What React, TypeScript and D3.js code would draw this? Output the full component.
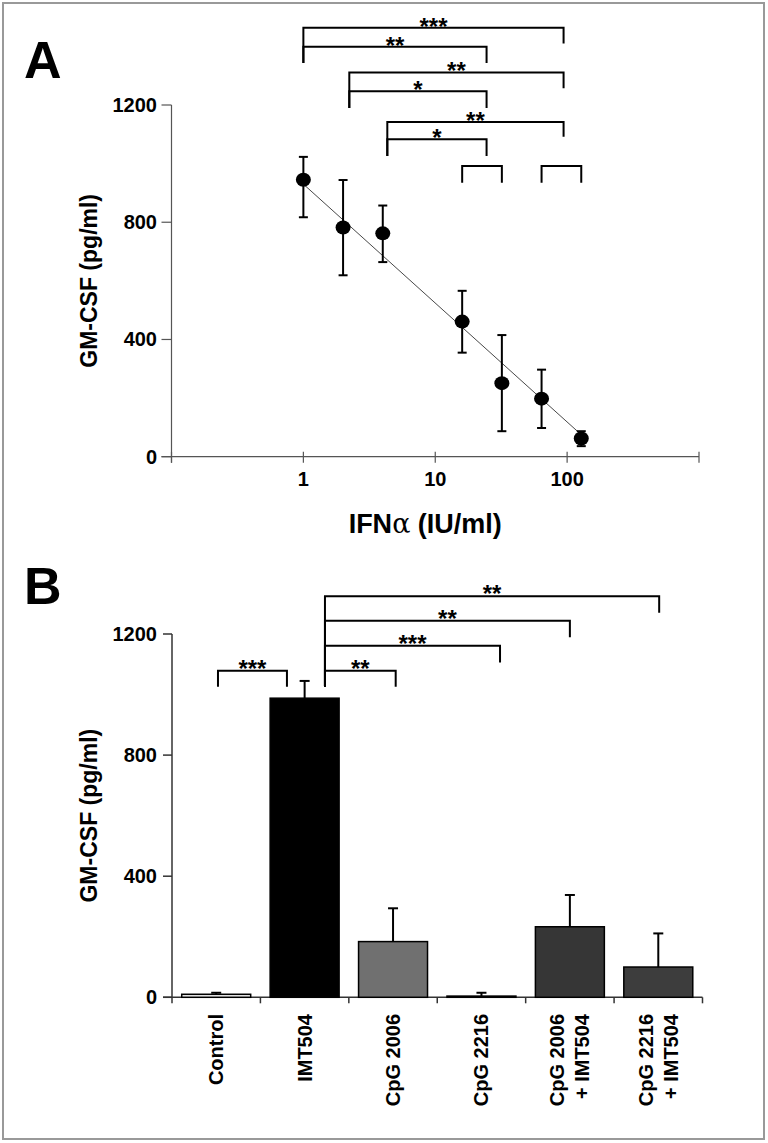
import React from "react";
import * as d3 from "d3";

const W = 768;
const H = 1143;

// ---------- Panel A data ----------
const ifnDoses = [1, 2, 4, 16, 32, 64, 128];
const gmcsfMeans = [945, 782, 762, 461, 251, 198, 62];
const gmcsfUpper = [1023, 944, 857, 566, 415, 297, 87];
const gmcsfLower = [817, 619, 664, 355, 87, 98, 36];
const fitDoses = [1, 128];
const fitValues = [930, 75];
const aYTicks = [0, 400, 800, 1200];
const aXTicks = [1, 10, 100];
const aXTickLabels = ["1", "10", "100"];
const aXAxisTicks = [0.1, 1, 10, 100, 1000];

// significance brackets panel A (dose units / GM-CSF units)
const aBrX1 = [1, 1, 2.23, 2.23, 4.33, 4.33, 16, 64];
const aBrX2 = [94, 24.5, 94, 24.5, 94, 24.5, 32, 128];
const aBrTop = [1464, 1399, 1311, 1247, 1142, 1083, 992, 992];
const aBrLeftBottom = [1343, 1343, 1190, 1190, 1026, 1026, 935, 935];
const aBrRightBottom = [1410, 1343, 1257, 1190, 1092, 1026, 935, 935];
const aBrLabels = ["***", "**", "**", "*", "**", "*", "", ""];

// ---------- Panel B data ----------
const categories = ["Control", "IMT504", "CpG 2006", "CpG 2216", "CpG 2006|+ IMT504", "CpG 2216|+ IMT504"];
const bMeans = [10, 988, 184, 4, 233, 100];
const bErrors = [5, 57, 110, 11, 105, 111];
const bFills = ["#e6e6e6", "#000000", "#707070", "#333333", "#363636", "#3d3d3d"];
const bYTicks = [0, 400, 800, 1200];

// brackets panel B (category index units / GM-CSF units)
const bBrX1 = [0.02, 1.23, 1.23, 1.23, 1.23];
const bBrX2 = [0.8, 2.03, 3.21, 4.0, 5.01];
const bBrTop = [1079, 1079, 1161, 1244, 1325];
const bBrLeftBottom = [1026, 1026, 1026, 1026, 1026];
const bBrRightBottom = [1026, 1026, 1106, 1189, 1270];
const bBrLabels = ["***", "**", "***", "**", "**"];

const FONT = "'Liberation Sans', Arial, Helvetica, sans-serif";

export default function App() {
  // Panel A scales
  const ax = d3.scaleLog().domain([0.1, 1000]).range([171.5, 699]);
  const ay = d3.scaleLinear().domain([0, 1200]).range([456.7, 105]);
  const fitLine = d3
    .line<number>()
    .x((_, i) => ax(fitDoses[i]))
    .y((d) => ay(d));

  // Panel B scales
  const bx = d3.scaleBand<string>().domain(categories).range([172, 702.5]).paddingInner(0.22).paddingOuter(0.11);
  const by = d3.scaleLinear().domain([0, 1200]).range([997.3, 634]);
  const bIdx = (i: number) => (bx(categories[0]) as number) + bx.bandwidth() / 2 + i * bx.step();

  const axisA = "#555";
  const axisB = "#333";

  return (
    <svg width={W} height={H} style={{ position: "absolute", left: 0, top: 0, background: "#fff" }} fontFamily={FONT}>
      <rect x={0} y={0} width={W} height={H} fill="#fff" />
      <rect x={3} y={3} width={761} height={1136} fill="none" stroke="#999" strokeWidth={2} />

      {/* ---------------- Panel A ---------------- */}
      <text x={24} y={78} fontSize={52} fontWeight="bold">A</text>

      {/* axes */}
      <line x1={ax(0.1)} x2={ax(0.1)} y1={ay(1200)} y2={ay(0) + 6} stroke={axisA} strokeWidth={1.2} />
      <line x1={ax(0.1) - 10} x2={ax(1000)} y1={ay(0)} y2={ay(0)} stroke={axisA} strokeWidth={1.2} />
      {aYTicks.map((t) => (
        <g key={"ayt" + t}>
          <line x1={ax(0.1) - 10} x2={ax(0.1)} y1={ay(t)} y2={ay(t)} stroke={axisA} strokeWidth={1.2} />
          <text x={157} y={ay(t) + 7} fontSize={20} fontWeight="bold" textAnchor="end">{t}</text>
        </g>
      ))}
      {aXAxisTicks.map((t) => (
        <line key={"axt" + t} x1={ax(t)} x2={ax(t)} y1={ay(0) - 5} y2={ay(0) + 6} stroke={axisA} strokeWidth={1.2} />
      ))}
      {aXTicks.map((t, i) => (
        <text key={"axl" + t} x={ax(t)} y={486} fontSize={20} fontWeight="bold" textAnchor="middle">{aXTickLabels[i]}</text>
      ))}
      <text x={(ax(1) + ax(100)) / 2 - 10} y={533} fontSize={27} fontWeight="bold" textAnchor="middle">
        IFN<tspan fontFamily="'DejaVu Serif', 'Liberation Serif', serif" fontWeight="normal">α</tspan> (IU/ml)
      </text>
      <text transform={`translate(97, ${(ay(0) + ay(1200)) / 2}) rotate(-90)`} fontSize={23} fontWeight="bold" textAnchor="middle">
        GM-CSF (pg/ml)
      </text>

      {/* fit line */}
      <path d={fitLine(fitValues) || ""} fill="none" stroke="#333" strokeWidth={0.9} />

      {/* error bars + points */}
      {ifnDoses.map((d, i) => {
        const cx = ax(d);
        return (
          <g key={"pt" + d}>
            <line x1={cx} x2={cx} y1={ay(gmcsfUpper[i])} y2={ay(gmcsfLower[i])} stroke="#000" strokeWidth={2} />
            <line x1={cx - 4.5} x2={cx + 4.5} y1={ay(gmcsfUpper[i])} y2={ay(gmcsfUpper[i])} stroke="#000" strokeWidth={2} />
            <line x1={cx - 4.5} x2={cx + 4.5} y1={ay(gmcsfLower[i])} y2={ay(gmcsfLower[i])} stroke="#000" strokeWidth={2} />
            <ellipse cx={cx} cy={ay(gmcsfMeans[i])} rx={7.5} ry={7} fill="#000" />
          </g>
        );
      })}

      {/* brackets A */}
      {aBrLabels.map((lab, i) => {
        const x1 = ax(aBrX1[i]);
        const x2 = ax(aBrX2[i]);
        const yt = ay(aBrTop[i]);
        return (
          <g key={"abr" + i}>
            <path
              d={`M${x1},${ay(aBrLeftBottom[i])}V${yt}H${x2}V${ay(aBrRightBottom[i])}`}
              fill="none"
              stroke="#000"
              strokeWidth={2}
            />
            {lab && (
              <text x={(x1 + x2) / 2} y={yt + 7} fontSize={24} fontWeight="bold" textAnchor="middle">{lab}</text>
            )}
          </g>
        );
      })}

      {/* ---------------- Panel B ---------------- */}
      <text x={24} y={604} fontSize={52} fontWeight="bold">B</text>

      <line x1={172} x2={172} y1={by(1200)} y2={by(0) + 6} stroke={axisB} strokeWidth={1.5} />
      <line x1={163} x2={702.5} y1={by(0)} y2={by(0)} stroke={axisB} strokeWidth={1.5} />
      {bYTicks.map((t) => (
        <g key={"byt" + t}>
          <line x1={163} x2={172} y1={by(t)} y2={by(t)} stroke={axisB} strokeWidth={1.5} />
          <text x={157} y={by(t) + 7} fontSize={20} fontWeight="bold" textAnchor="end">{t}</text>
        </g>
      ))}
      {categories.map((c, i) => (
        <line key={"bxt" + i} x1={172 + (i + 1) * bx.step()} x2={172 + (i + 1) * bx.step()} y1={by(0)} y2={by(0) + 6} stroke={axisB} strokeWidth={1.5} />
      ))}
      <text transform={`translate(97, ${(by(0) + by(1200)) / 2}) rotate(-90)`} fontSize={23} fontWeight="bold" textAnchor="middle">
        GM-CSF (pg/ml)
      </text>

      {/* bars */}
      {categories.map((c, i) => {
        const x0 = bx(c) as number;
        const cx = x0 + bx.bandwidth() / 2;
        const yTop = by(bMeans[i]);
        const yErr = by(bMeans[i] + bErrors[i]);
        return (
          <g key={"bar" + i}>
            <line x1={cx} x2={cx} y1={yTop} y2={yErr} stroke="#000" strokeWidth={2} />
            <line x1={cx - 5} x2={cx + 5} y1={yErr} y2={yErr} stroke="#000" strokeWidth={2} />
            <rect x={x0} y={yTop} width={bx.bandwidth()} height={by(0) - yTop} fill={bFills[i]} stroke="#000" strokeWidth={1.5} />
          </g>
        );
      })}

      {/* category labels */}
      {categories.map((c, i) => {
        const cx = (bx(c) as number) + bx.bandwidth() / 2;
        const lines = c.split("|");
        const n = lines.length;
        return (
          <g key={"bl" + i}>
            {lines.map((ln, j) => {
              const off = (j - (n - 1) / 2) * 25 + 7;
              return (
                <text
                  key={j}
                  transform={`translate(${cx + off}, 1014) rotate(-90)`}
                  fontSize={20}
                  fontWeight="bold"
                  textAnchor="end"
                >
                  {ln}
                </text>
              );
            })}
          </g>
        );
      })}

      {/* brackets B */}
      {bBrLabels.map((lab, i) => {
        const x1 = bIdx(bBrX1[i]);
        const x2 = bIdx(bBrX2[i]);
        const yt = by(bBrTop[i]);
        return (
          <g key={"bbr" + i}>
            <path
              d={`M${x1},${by(bBrLeftBottom[i])}V${yt}H${x2}V${by(bBrRightBottom[i])}`}
              fill="none"
              stroke="#000"
              strokeWidth={2}
            />
            <text x={(x1 + x2) / 2} y={yt + 6} fontSize={24} fontWeight="bold" textAnchor="middle">{lab}</text>
          </g>
        );
      })}
    </svg>
  );
}
